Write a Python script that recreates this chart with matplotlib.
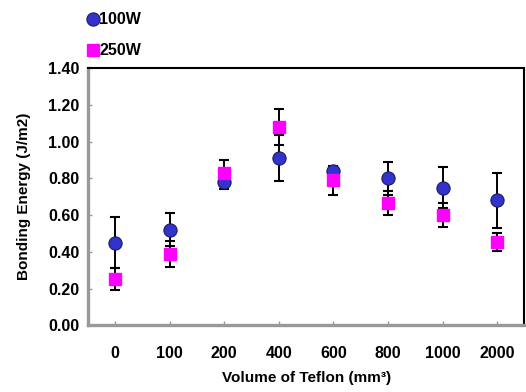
import matplotlib.pyplot as plt

plt.rcParams['font.family'] = ['Liberation Sans', 'DejaVu Sans']
plt.rcParams['font.weight'] = 'bold'

# data
volumes = ['0', '100', '200', '400', '600', '800', '1000', '2000']
energy_100w = [0.45, 0.52, 0.78, 0.91, 0.84, 0.80, 0.75, 0.68]
err_100w = [0.14, 0.09, 0.04, 0.125, 0.01, 0.09, 0.11, 0.15]
energy_250w = [0.25, 0.39, 0.83, 1.08, 0.79, 0.665, 0.60, 0.455]
err_250w = [0.06, 0.07, 0.07, 0.10, 0.08, 0.065, 0.065, 0.05]

fig = plt.figure(figsize=(5.26, 3.92), dpi=100)
ax = fig.add_axes([0.167, 0.170, 0.830, 0.656])

x = list(range(len(volumes)))

# error bars behind the markers
ax.errorbar(x, energy_100w, yerr=err_100w, fmt='none', ecolor='black',
            elinewidth=1.4, capsize=3.3, capthick=1.5, zorder=2)
ax.errorbar(x, energy_250w, yerr=err_250w, fmt='none', ecolor='black',
            elinewidth=1.4, capsize=3.3, capthick=1.5, zorder=2)

h1, = ax.plot(x, energy_100w, 'o', color='#3333cc', markeredgecolor='#1a1a66',
              markeredgewidth=0.8, markersize=9.5, label='100W', zorder=3)
h2, = ax.plot(x, energy_250w, 's', color='#ff00ff', markeredgecolor='#ff00ff',
              markersize=8.5, label='250W', zorder=4)

ax.set_xlim(-0.5, len(volumes) - 0.5)
ax.set_ylim(0, 1.4)
ax.set_xticks(x)
ax.set_xticklabels(volumes)
ax.set_yticks([0, 0.2, 0.4, 0.6, 0.8, 1.0, 1.2, 1.4])
ax.set_yticklabels([f'{v:.2f}' for v in ax.get_yticks()])

ax.tick_params(axis='x', direction='in', length=3, width=1, color='#999999',
               pad=15, labelsize=11.5)
ax.tick_params(axis='y', direction='in', length=3, width=1, color='#999999',
               pad=6, labelsize=11.5)

for side in ['left', 'bottom']:
    ax.spines[side].set_color('#999999')
    ax.spines[side].set_linewidth(2.4)
for side in ['top', 'right']:
    ax.spines[side].set_color('black')
    ax.spines[side].set_linewidth(1.5)

ax.set_ylabel('Bonding Energy (J/m2)', fontsize=11, fontweight='bold', labelpad=12)
ax.set_xlabel('Volume of Teflon (mm³)', fontsize=11, fontweight='bold', labelpad=7)

fig.legend(handles=[h1, h2], loc='upper left', bbox_to_anchor=(0.155, 0.985),
           frameon=False, handlelength=0.6, handletextpad=0.1, labelspacing=1.0,
           borderaxespad=0, prop={'weight': 'bold', 'size': 11.5})

plt.savefig('out.png', dpi=100, facecolor='white')
plt.close()
